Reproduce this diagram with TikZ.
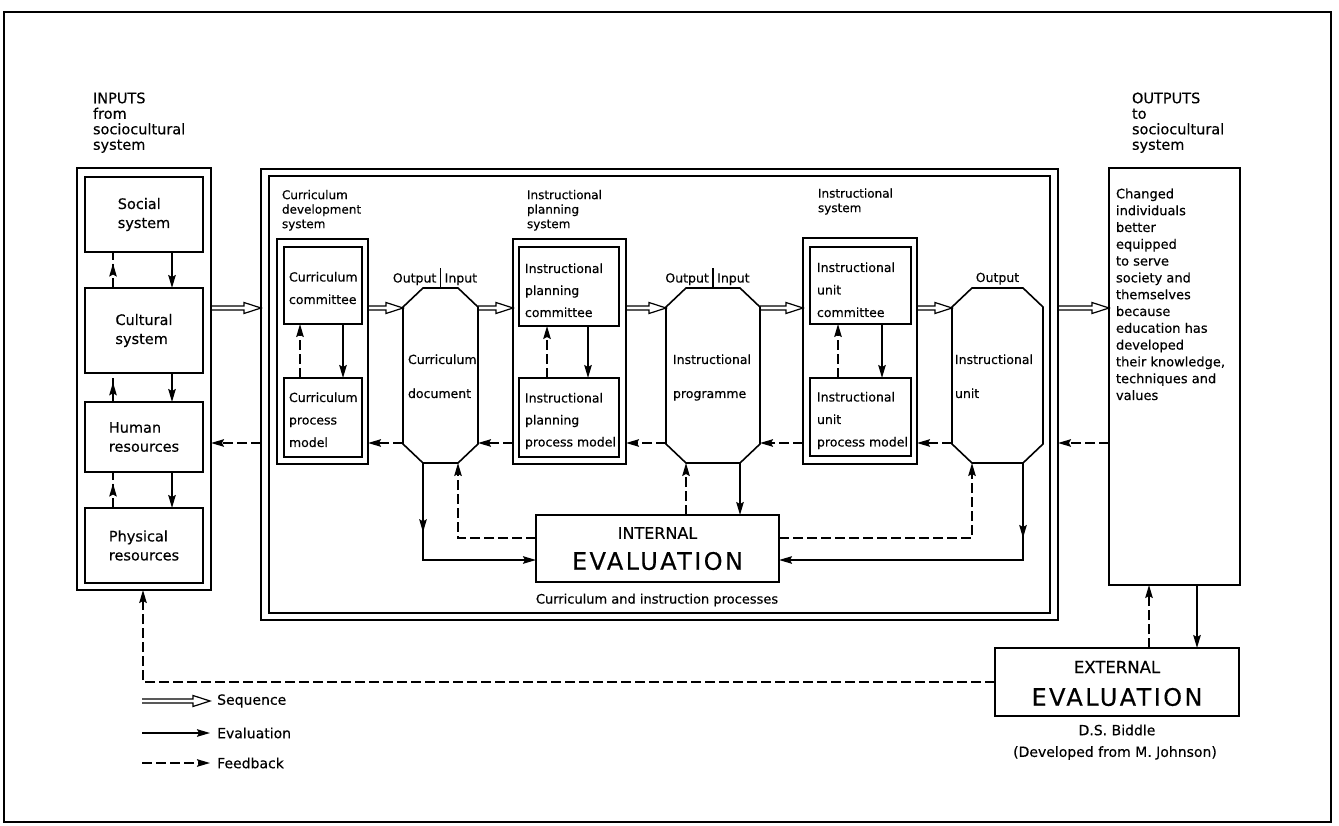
\documentclass[tikz,border=0pt]{standalone}
\usepackage{fontspec}
\setmainfont{DejaVu Sans}[FakeBold=0.4]
\usetikzlibrary{arrows.meta,decorations.markings,calc}
\tikzset{
  bx/.style={draw, line width=1.6pt, inner sep=0pt, outer sep=0pt, anchor=north west},
  lbl/.style={inner sep=0pt, outer sep=0pt, anchor=north west, align=left},
  tip/.style={-{Stealth[length=13pt,width=7.5pt,inset=2pt]}},
  ev/.style={line width=1.6pt, tip},
  fb/.style={line width=1.6pt, dash pattern=on 10pt off 4pt, tip},
  fbline/.style={line width=1.6pt, dash pattern=on 10pt off 4pt},
  midtip/.style={postaction={decorate}, decoration={markings, mark=at position #1 with {\arrow[line width=1.6pt]{Stealth[length=13pt,width=7.5pt,inset=2pt]}}}},
  seqline/.style={line width=1.2pt, line join=miter},
  octline/.style={line width=1.6pt, line join=miter},
}
\newcommand{\seqarr}[2]{\draw[seqline] let \p1=(#1), \p2=(#2) in (\x1,\y1+2pt) -- (\x2-17pt,\y1+2pt) -- (\x2-17pt,\y1+5.5pt) -- (\x2,\y1) -- (\x2-17pt,\y1-5.5pt) -- (\x2-17pt,\y1-2pt) -- (\x1,\y1-2pt);}
\newcommand{\octag}[1]{\draw[octline] ([xshift=20pt]#1.north west) -- ([xshift=-20pt]#1.north east) -- ([yshift=-19pt]#1.north east) -- ([yshift=19pt]#1.south east) -- ([xshift=-20pt]#1.south east) -- ([xshift=20pt]#1.south west) -- ([yshift=19pt]#1.south west) -- ([yshift=-19pt]#1.north west) -- cycle;}
\newcommand{\bigeval}{\fontsize{24}{26}\selectfont\addfontfeature{LetterSpace=10}}
\begin{document}
\begin{tikzpicture}[x=1pt,y=-1pt]
\useasboundingbox (0,0) rectangle (1339,826);
\draw[line width=2.6pt] (4,12) rectangle (1331,822);

% ---------- inputs ----------
\node[lbl, font=\fontsize{14.5}{15.5}\selectfont] (inlbl) at (93,92.5) {INPUTS\\from\\sociocultural\\system};
\node[bx, minimum width=134, minimum height=422] (inputs) at (77,168) {};
\node[bx, minimum width=118, minimum height=75, align=left, font=\fontsize{14.5}{19}\selectfont] (social) at (85,177) {Social\\system};
\node[bx, minimum width=118, minimum height=85, align=left, font=\fontsize{14.5}{19}\selectfont] (cultural) at (85,288) {Cultural\\system};
\node[bx, minimum width=118, minimum height=70, align=left, font=\fontsize{14.5}{19}\selectfont] (human) at (85,402) {Human\\resources};
\node[bx, minimum width=118, minimum height=75, align=left, font=\fontsize{14.5}{19}\selectfont] (physical) at (85,508) {Physical\\resources};
\foreach \a/\b in {social/cultural, cultural/human, human/physical}{
  \draw[fbline, midtip=0.68] ([xshift=-31pt]\b.north) -- ([xshift=-31pt]\a.south);
  \draw[ev] ([xshift=28pt]\a.south) -- ([xshift=28pt]\b.north);
}

% ---------- big frame ----------
\node[bx, line width=1.5pt, minimum width=797, minimum height=451] (frameO) at (261,169) {};
\node[bx, line width=1.5pt, minimum width=781, minimum height=437] (frameI) at (269,176) {};
\node[font=\fontsize{13}{15}\selectfont] (caption) at (657,600) {Curriculum and instruction processes};

% curriculum development system
\node[lbl, font=\fontsize{12}{14.5}\selectfont] (cdl) at (282,190) {Curriculum\\development\\system};
\node[bx, minimum width=91, minimum height=225] (cd) at (277,239) {};
\node[bx, minimum width=78, minimum height=77] (cc) at (284,247) {};
\node[lbl, font=\fontsize{12.5}{22.5}\selectfont] (cct) at (289,272) {Curriculum\\committee};
\node[bx, minimum width=78, minimum height=79] (cpm) at (284,378) {};
\node[lbl, font=\fontsize{12.5}{22.5}\selectfont] (cpmt) at (289,392.5) {Curriculum\\process\\model};
\draw[fb] ([xshift=-23pt]cpm.north) -- ([xshift=-23pt]cc.south);
\draw[ev] ([xshift=20pt]cc.south) -- ([xshift=20pt]cpm.north);

% instructional planning system
\node[lbl, font=\fontsize{12}{14.5}\selectfont] (ipl) at (527,190) {Instructional\\planning\\system};
\node[bx, minimum width=113, minimum height=225] (ip) at (513,239) {};
\node[bx, minimum width=100, minimum height=79] (ipc) at (519,247) {};
\node[lbl, font=\fontsize{12.5}{22}\selectfont] (ipct) at (525,263.5) {Instructional\\planning\\committee};
\node[bx, minimum width=100, minimum height=79] (ippm) at (519,378) {};
\node[lbl, font=\fontsize{12.5}{22}\selectfont] (ippmt) at (525,393) {Instructional\\planning\\process model};
\draw[fb] ([xshift=-22pt]ippm.north) -- ([xshift=-22pt]ipc.south);
\draw[ev] ([xshift=19pt]ipc.south) -- ([xshift=19pt]ippm.north);

% instructional system
\node[lbl, font=\fontsize{12}{14.5}\selectfont] (isl) at (818,188.5) {Instructional\\system};
\node[bx, minimum width=114, minimum height=226] (is) at (803,238) {};
\node[bx, minimum width=101, minimum height=77] (iuc) at (810,247) {};
\node[lbl, font=\fontsize{12.5}{22.5}\selectfont] (iuct) at (817,262.5) {Instructional\\unit\\committee};
\node[bx, minimum width=101, minimum height=78] (iupm) at (810,378) {};
\node[lbl, font=\fontsize{12.5}{22.5}\selectfont] (iupmt) at (817,392) {Instructional\\unit\\process model};
\draw[fb] ([xshift=-22.5pt]iupm.north) -- ([xshift=-22.5pt]iuc.south);
\draw[ev] ([xshift=21.5pt]iuc.south) -- ([xshift=21.5pt]iupm.north);

% octagons
\node[inner sep=0pt, outer sep=0pt, minimum width=75, minimum height=175, anchor=north west] (oct1) at (403,288) {};
\node[inner sep=0pt, outer sep=0pt, minimum width=94, minimum height=175, anchor=north west] (oct2) at (666,288) {};
\node[inner sep=0pt, outer sep=0pt, minimum width=91, minimum height=175, anchor=north west] (oct3) at (952,288) {};
\octag{oct1}\octag{oct2}\octag{oct3}
\node[lbl, font=\fontsize{12.5}{34}\selectfont] (oct1t) at (408,354.5) {Curriculum\\document};
\node[lbl, font=\fontsize{12.5}{34}\selectfont] (oct2t) at (673,354.5) {Instructional\\programme};
\node[lbl, font=\fontsize{12.5}{34}\selectfont] (oct3t) at (955,354.5) {Instructional\\unit};
\foreach \o in {oct1,oct2}{
  \draw[line width=1.5pt] (\o.north) -- ([yshift=20pt]\o.north);
  \node[anchor=base east, inner sep=0pt, font=\fontsize{12.5}{14}\selectfont] (\o out) at ([xshift=-4pt,yshift=5.5pt]\o.north) {Output};
  \node[anchor=base west, inner sep=0pt, font=\fontsize{12.5}{14}\selectfont] (\o in) at ([xshift=4pt,yshift=5.5pt]\o.north) {Input};
}
\node[anchor=base, inner sep=0pt, font=\fontsize{12.5}{14}\selectfont] (oct3out) at ([yshift=6pt]oct3.north) {Output};

\coordinate (o1bl) at ([xshift=20pt]oct1.south west);
\coordinate (o1br) at ([xshift=-20pt]oct1.south east);
\coordinate (o2bl) at ([xshift=20pt]oct2.south west);
\coordinate (o2br) at ([xshift=-20pt]oct2.south east);
\coordinate (o3bl) at ([xshift=20pt]oct3.south west);
\coordinate (o3br) at ([xshift=-20pt]oct3.south east);

% internal evaluation
\node[bx, minimum width=243, minimum height=67] (ie) at (536,515) {};
\node[font=\fontsize{16}{18}\selectfont, inner sep=0pt] (ie1) at (657.5,533) {INTERNAL};
\node[font=\bigeval, inner sep=0pt] (ie2) at (657.5,561) {EVALUATION};
\draw[ev, midtip=0.33] (o1bl) |- ([yshift=-11.5pt]ie.west);
\draw[fb] ([yshift=10.5pt]ie.west) -| (o1br);
\draw[fb] (o2bl |- ie.north) -- (o2bl);
\draw[ev] (o2br) -- (o2br |- ie.north);
\draw[fb] ([yshift=10.5pt]ie.east) -| (o3bl);
\draw[ev, midtip=0.22] (o3br) |- ([yshift=-11.5pt]ie.east);

% ---------- outputs ----------
\node[lbl, font=\fontsize{14.5}{15.5}\selectfont] (outlbl) at (1132,92.5) {OUTPUTS\\to\\sociocultural\\system};
\node[bx, minimum width=131, minimum height=417] (outputs) at (1109,168) {};
\node[lbl, font=\fontsize{13}{16.8}\selectfont] (outtxt) at (1116,188.5) {Changed\\individuals\\better\\equipped\\to serve\\society and\\themselves\\because\\education has\\developed\\their knowledge,\\techniques and\\values};

% external evaluation
\node[bx, minimum width=244, minimum height=68] (ee) at (995,648) {};
\node[font=\fontsize{16.5}{18}\selectfont, inner sep=0pt] (ee1) at (1117,667) {EXTERNAL};
\node[font=\bigeval, inner sep=0pt] (ee2) at (1117,697) {EVALUATION};
\node[font=\fontsize{14}{16}\selectfont, inner sep=0pt] (bid) at (1117,730) {D.S. Biddle};
\node[font=\fontsize{14}{16}\selectfont, inner sep=0pt] (dev) at (1115,753) {(Developed from M. Johnson)};
\coordinate (exd) at (1149,0);
\coordinate (exs) at (1197,0);
\coordinate (exl) at (143,0);
\draw[fb] (ee.north -| exd) -- (outputs.south -| exd);
\draw[ev] (outputs.south -| exs) -- (ee.north -| exs);
\draw[fb] (ee.west) -| (inputs.south -| exl);

% ---------- sequence arrows ----------
\coordinate (sqY) at (0,308);
\seqarr{inputs.east |- sqY}{frameO.west |- sqY}
\seqarr{cd.east |- sqY}{oct1.west |- sqY}
\seqarr{oct1.east |- sqY}{ip.west |- sqY}
\seqarr{ip.east |- sqY}{oct2.west |- sqY}
\seqarr{oct2.east |- sqY}{is.west |- sqY}
\seqarr{is.east |- sqY}{oct3.west |- sqY}
\seqarr{frameO.east |- sqY}{outputs.west |- sqY}

% ---------- feedback arrows ----------
\coordinate (fbY) at (0,443);
\draw[fb] (frameO.west |- fbY) -- (inputs.east |- fbY);
\draw[fb] (oct1.west |- fbY) -- (cd.east |- fbY);
\draw[fb] (ip.west |- fbY) -- (oct1.east |- fbY);
\draw[fb] (oct2.west |- fbY) -- (ip.east |- fbY);
\draw[fb] (is.west |- fbY) -- (oct2.east |- fbY);
\draw[fb] (oct3.west |- fbY) -- (is.east |- fbY);
\draw[fb] (outputs.west |- fbY) -- (frameO.east |- fbY);

% ---------- legend ----------
\coordinate (lg1a) at (142,701); \coordinate (lg1b) at (210,701);
\coordinate (lg2a) at (142,733); \coordinate (lg2b) at (210,733);
\coordinate (lg3a) at (142,763); \coordinate (lg3b) at (210,763);
\seqarr{lg1a}{lg1b}
\draw[ev] (lg2a) -- (lg2b);
\draw[fb] (lg3a) -- (lg3b);
\node[anchor=west, inner sep=0pt, font=\fontsize{14}{16}\selectfont] (lg1t) at (217,701) {Sequence};
\node[anchor=west, inner sep=0pt, font=\fontsize{14}{16}\selectfont] (lg2t) at (217,733) {Evaluation};
\node[anchor=west, inner sep=0pt, font=\fontsize{14}{16}\selectfont] (lg3t) at (217,763) {Feedback};
\end{tikzpicture}
\end{document}
